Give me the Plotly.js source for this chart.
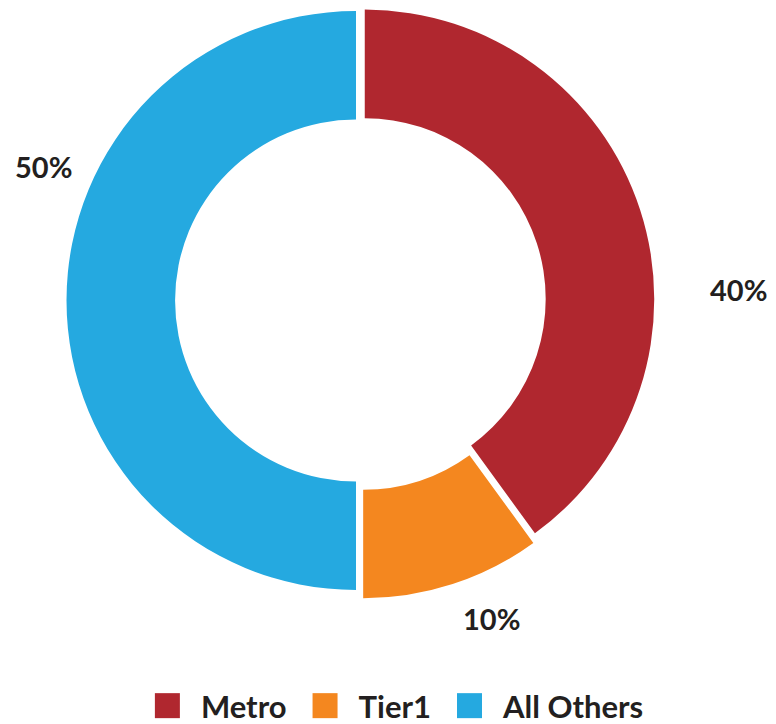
<!DOCTYPE html>
<html>
<head>
<meta charset="utf-8">
<script src="https://cdn.plot.ly/plotly-3.0.1.min.js"></script>
<style>
  html, body { margin: 0; padding: 0; background: #ffffff; }
  #chart { width: 776px; height: 724px; }
</style>
</head>
<body>
<div id="chart"></div>
<script>
const categories = ["Metro", "Tier1", "All Others"];
const values = [40, 10, 50];
const colors = ["#b0272f", "#f4871f", "#25a9e0"];
const pulls = [0.0155, 0.03, 0.0155];

const total = values.reduce((a, b) => a + b, 0);
const pctText = values.map(v => Math.round(v / total * 100) + "%");

// label placement (paper coords) for each slice's percent label
const labelPos = [
  { x: 0.9523, y: 0.6008 },
  { x: 0.6336, y: 0.1464 },
  { x: 0.0561, y: 0.770 }
];

const textColor = "#231f20";
const fontFam = "Lato, 'Open Sans', sans-serif";

const trace = {
  type: "pie",
  labels: categories,
  values: values,
  marker: { colors: colors, line: { width: 0 } },
  hole: 0.625,
  sort: false,
  direction: "clockwise",
  rotation: 0,
  pull: pulls,
  textinfo: "none",
  hoverinfo: "label+percent",
  domain: { x: [0.0803, 0.8488], y: [0.1731, 0.9968] }
};

const annotations = pctText.map((t, i) => ({
  xref: "paper", yref: "paper",
  x: labelPos[i].x, y: labelPos[i].y,
  xanchor: "center", yanchor: "middle",
  text: "<b>" + t + "</b>",
  showarrow: false,
  font: { family: fontFam, size: 29, color: textColor }
}));

const layout = {
  width: 776, height: 724,
  margin: { l: 0, r: 0, t: 0, b: 0 },
  paper_bgcolor: "#ffffff",
  plot_bgcolor: "#ffffff",
  showlegend: true,
  legend: {
    orientation: "h",
    x: 0.505, xanchor: "center",
    y: 0, yanchor: "bottom",
    font: { family: fontFam, size: 31, color: textColor, weight: "bold" },
    itemwidth: 57,
    traceorder: "normal"
  },
  annotations: annotations
};

Plotly.newPlot("chart", [trace], layout, { displayModeBar: false, staticPlot: true }).then(gd => {
  gd.querySelectorAll("path.legendpie").forEach(p => {
    p.setAttribute("d", "M12.5,12.5H-12.5V-12.5H12.5Z");
  });
  const lg = gd.querySelector("g.legend");
  if (lg) {
    const tr = lg.getAttribute("transform") || "";
    const m = tr.match(/translate\(\s*([-\d.]+)[ ,]+([-\d.]+)\s*\)/);
    if (m) {
      lg.setAttribute("transform", "translate(" + m[1] + "," + (parseFloat(m[2]) + 9) + ")");
    }
  }
});
</script>
</body>
</html>
